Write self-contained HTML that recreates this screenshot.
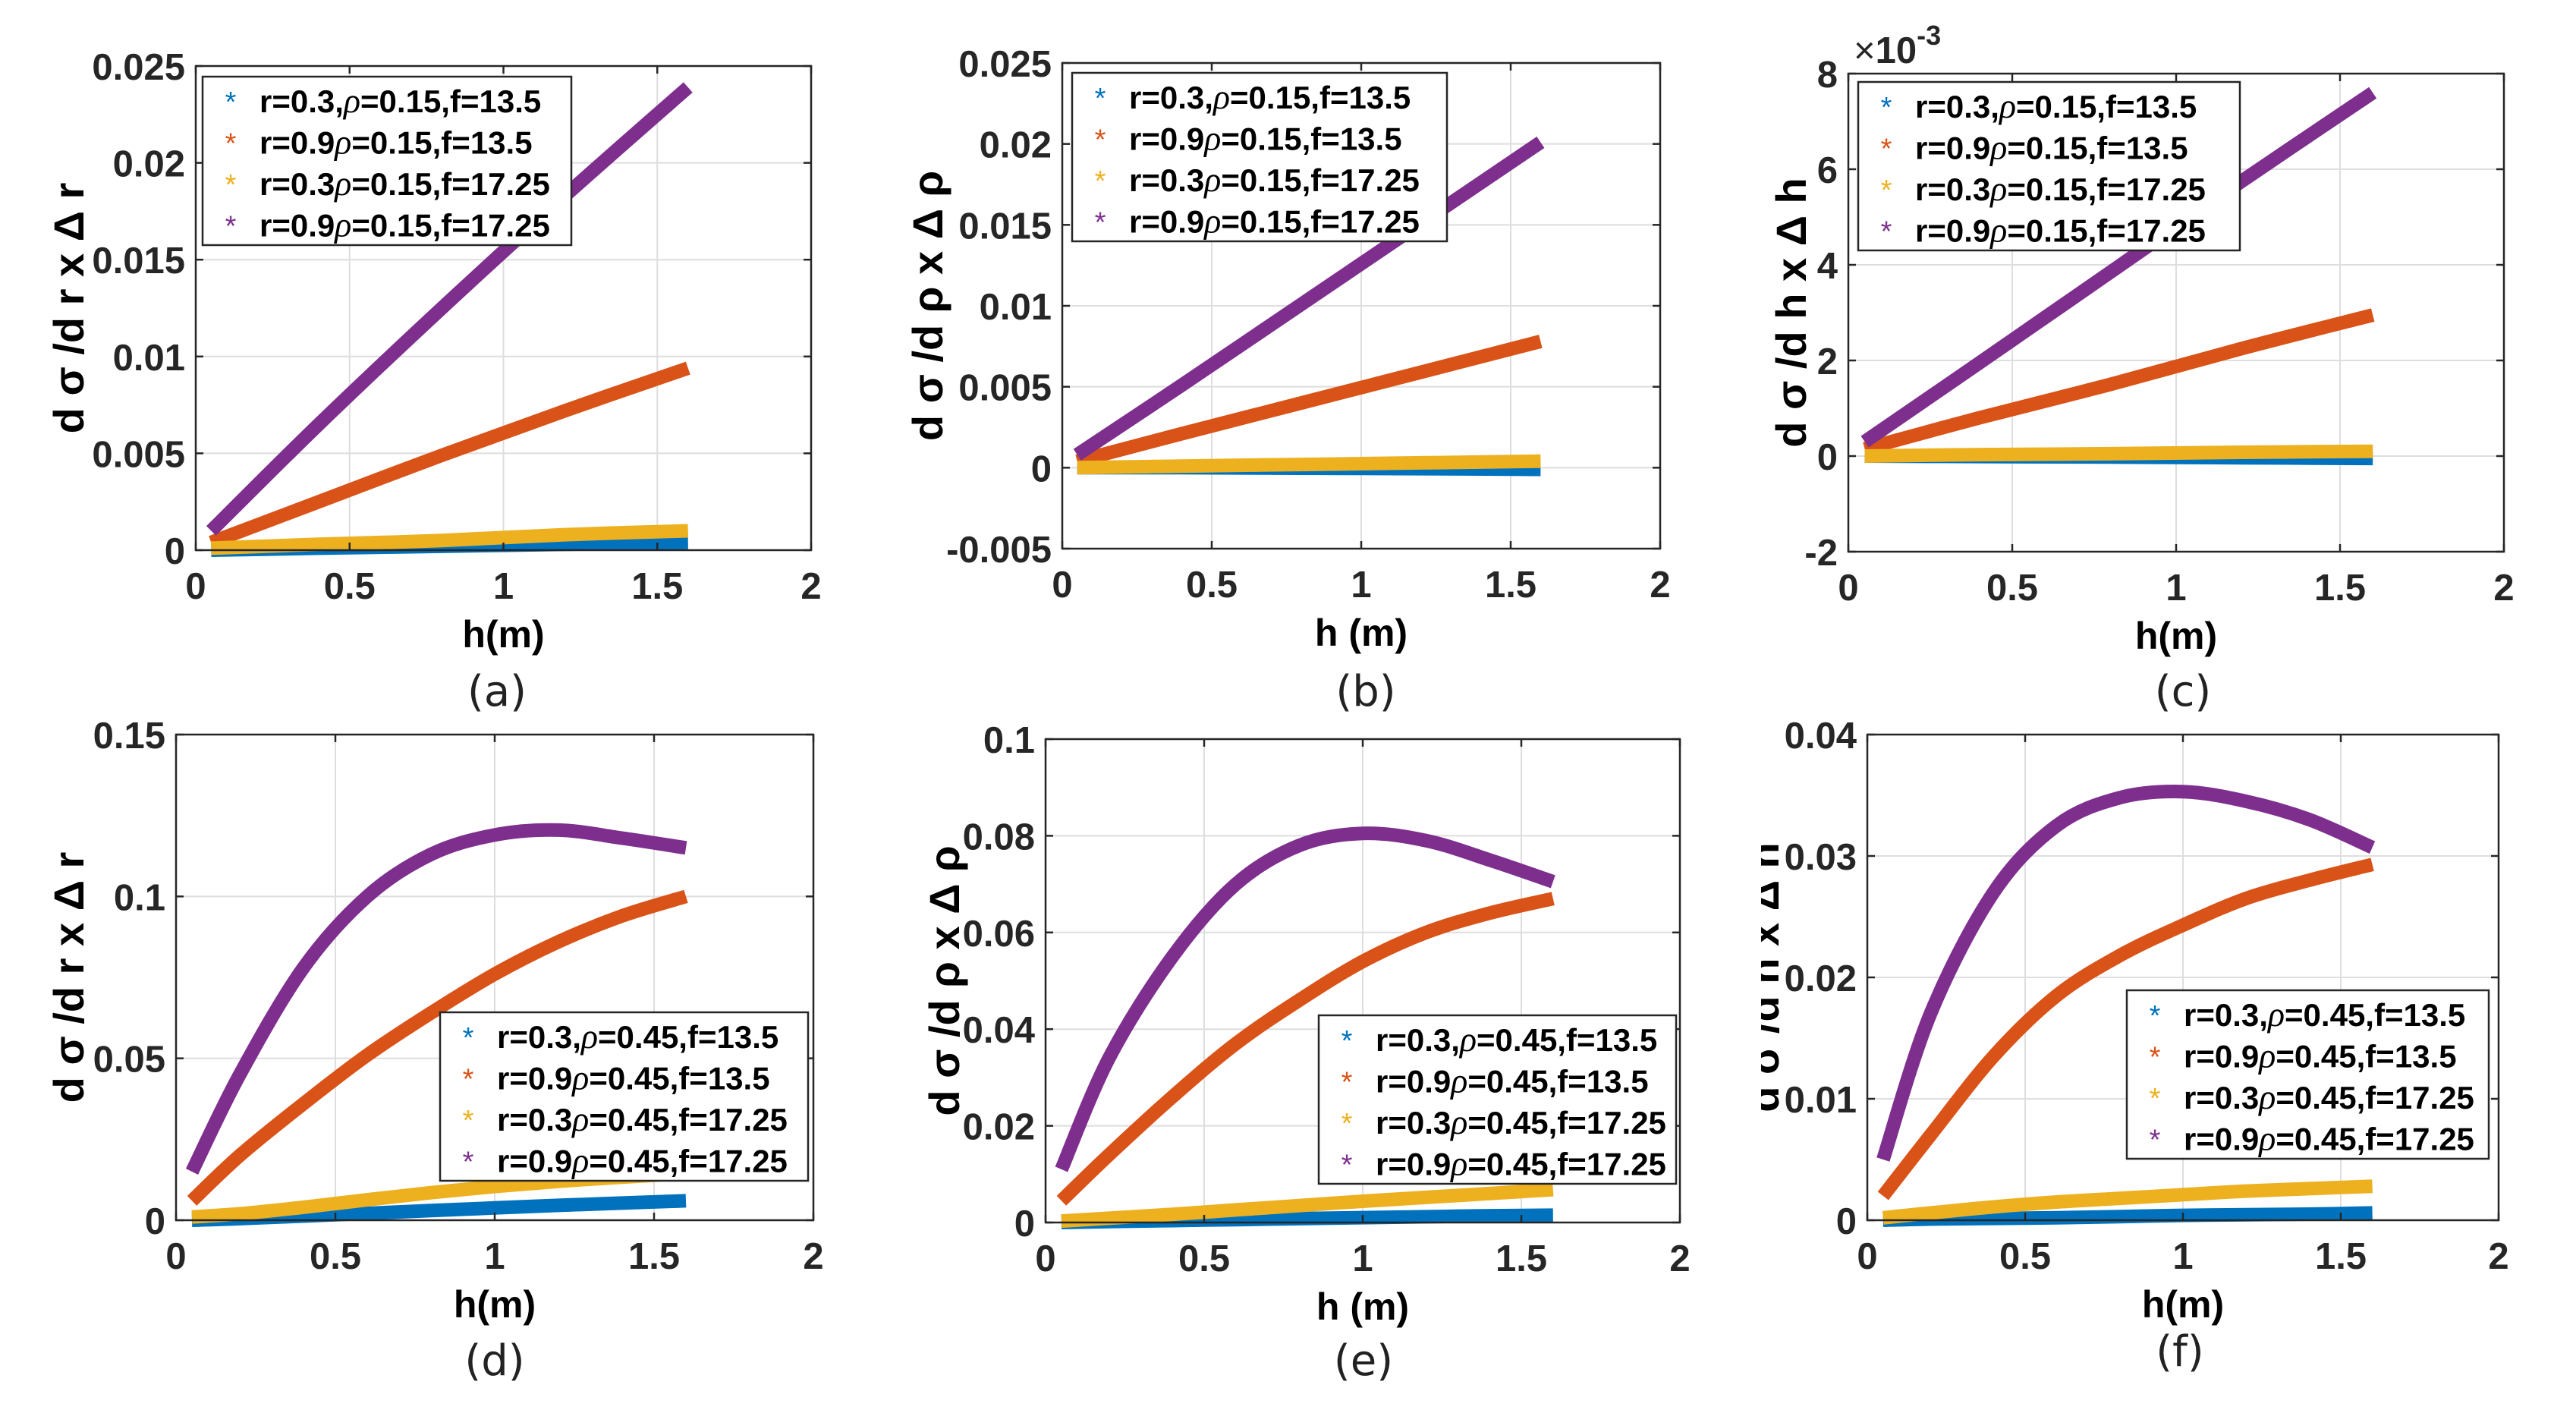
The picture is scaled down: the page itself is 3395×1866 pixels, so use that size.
<!DOCTYPE html>
<html><head><meta charset="utf-8">
<style>
html,body{margin:0;padding:0;background:#fff;}
svg{display:block;}
text{font-family:"Liberation Sans",Arial,sans-serif;}
.tk{font-size:49px;font-weight:bold;fill:#262626;}
.lab{font-size:50px;font-weight:bold;fill:#000;}
.ylab{font-size:56px;font-weight:bold;fill:#000;}
.cap{font-size:56px;fill:#222;font-family:"DejaVu Sans","Liberation Sans",sans-serif;}
.lg{font-size:42px;font-weight:bold;fill:#000;}
.rho{font-family:"Liberation Serif",serif;font-style:italic;font-weight:normal;font-size:46px;}
</style></head>
<body>
<svg id="fig" width="3395" height="1866" viewBox="0 0 3395 1866" xmlns="http://www.w3.org/2000/svg"></svg>
<script>
// shared x samples
const hLin = [0.05, 0.4, 0.8, 1.2, 1.6];
const hCurve = [0.05, 0.2, 0.4, 0.6, 0.8, 1.0, 1.2, 1.4, 1.6];
const seriesColors = ["#0072BD", "#D95319", "#EDB120", "#7E2F8E"];
// panel (a)
const aBlue = [0, 0.0001, 0.0002, 0.0003, 0.0004];
const aOrange = [0.0004, 0.0025, 0.0049, 0.0072, 0.0094];
const aYellow = [0.0001, 0.0003, 0.0005, 0.0008, 0.001];
const aPurple = [0.001, 0.0065, 0.0125, 0.0183, 0.0239];
const aTicks = [0, 0.005, 0.01, 0.015, 0.02, 0.025];
const aTickLabels = ["0", "0.005", "0.01", "0.015", "0.02", "0.025"];
// panel (b)
const bBlue = [0, 0, -0.00003, -0.00006, -0.0001];
const bOrange = [0.0004, 0.0021, 0.004, 0.0059, 0.0078];
const bYellow = [0, 0.0001, 0.0002, 0.0003, 0.0004];
const bPurple = [0.0008, 0.0051, 0.0101, 0.0151, 0.0201];
const bTicks = [-0.005, 0, 0.005, 0.01, 0.015, 0.02, 0.025];
const bTickLabels = ["-0.005", "0", "0.005", "0.01", "0.015", "0.02", "0.025"];
// panel (c) (x 1e-3)
const cBlue = [0, -0.01, -0.02, -0.035, -0.05];
const cOrange = [0.15, 0.8, 1.5, 2.25, 2.95];
const cYellow = [0, 0.03, 0.05, 0.08, 0.1];
const cPurple = [0.3, 1.95, 3.85, 5.75, 7.6];
const cTicks = [-2, 0, 2, 4, 6, 8];
const cTickLabels = ["-2", "0", "2", "4", "6", "8"];
// panel (d)
const dBlue = [0, 0.0005, 0.0013, 0.0021, 0.003, 0.0038, 0.0046, 0.0053, 0.006];
const dOrange = [0.006, 0.02, 0.036, 0.051, 0.064, 0.076, 0.086, 0.094, 0.1];
const dYellow = [0.001, 0.002, 0.004, 0.0063, 0.0085, 0.0104, 0.012, 0.0133, 0.0145];
const dPurple = [0.015, 0.045, 0.078, 0.1, 0.113, 0.119, 0.1205, 0.118, 0.115];
const dTicks = [0, 0.05, 0.1, 0.15];
const dTickLabels = ["0", "0.05", "0.1", "0.15"];
// panel (e)
const eBlue = [0, 0.0002, 0.0004, 0.0006, 0.0008, 0.001, 0.0012, 0.0014, 0.0015];
const eOrange = [0.0045, 0.014, 0.026, 0.037, 0.046, 0.054, 0.06, 0.064, 0.067];
const eYellow = [0.0003, 0.0009, 0.0017, 0.0026, 0.0035, 0.0044, 0.0052, 0.006, 0.0068];
const ePurple = [0.011, 0.034, 0.055, 0.07, 0.078, 0.0805, 0.079, 0.075, 0.0705];
const eTicks = [0, 0.02, 0.04, 0.06, 0.08, 0.1];
const eTickLabels = ["0", "0.02", "0.04", "0.06", "0.08", "0.1"];
// panel (f)
const fBlue = [0, 0.0001, 0.00015, 0.0002, 0.0003, 0.0004, 0.00045, 0.0005, 0.0006];
const fOrange = [0.002, 0.007, 0.0135, 0.0185, 0.0218, 0.0243, 0.0265, 0.028, 0.0293];
const fYellow = [0.0002, 0.0006, 0.0011, 0.0015, 0.0018, 0.0021, 0.0024, 0.0026, 0.0028];
const fPurple = [0.005, 0.017, 0.027, 0.0325, 0.0348, 0.0353, 0.0345, 0.033, 0.0307];
const fTicks = [0, 0.01, 0.02, 0.03, 0.04];
const fTickLabels = ["0", "0.01", "0.02", "0.03", "0.04"];
const xTicks = [0, 0.5, 1, 1.5, 2];
const xTickLabels = ["0", "0.5", "1", "1.5", "2"];

const NS = "http://www.w3.org/2000/svg";
const fig = document.getElementById("fig");
function mk(tag, attrs, parent) {
  const e = document.createElementNS(NS, tag);
  for (const k in attrs) e.setAttribute(k, attrs[k]);
  (parent || fig).appendChild(e);
  return e;
}
function smoothPath(P) {
  let d = "M" + P[0][0].toFixed(1) + "," + P[0][1].toFixed(1);
  for (let i = 0; i < P.length - 1; i++) {
    const p0 = P[Math.max(0, i - 1)], p1 = P[i], p2 = P[i + 1], p3 = P[Math.min(P.length - 1, i + 2)];
    const c1x = p1[0] + (p2[0] - p0[0]) / 6, c1y = p1[1] + (p2[1] - p0[1]) / 6;
    const c2x = p2[0] - (p3[0] - p1[0]) / 6, c2y = p2[1] - (p3[1] - p1[1]) / 6;
    d += " C" + c1x.toFixed(1) + "," + c1y.toFixed(1) + " " + c2x.toFixed(1) + "," + c2y.toFixed(1) + " " + p2[0].toFixed(1) + "," + p2[1].toFixed(1);
  }
  return d;
}

function panel(p) {
  const g = mk("g", {});
  
  
  const sx = v => p.L + (v - 0) / 2 * (p.R - p.L);
  const sy = v => p.B - (v - p.ymin) / (p.ymax - p.ymin) * (p.B - p.T);
  xTicks.forEach((t, i) => {
    if (i > 0 && i < xTicks.length - 1) {
      const gl = mk("line", {x1: sx(t), x2: sx(t), y1: p.T, y2: p.B, stroke: "#dedede", "stroke-width": 2}, g);
      
      
    }
  });
  p.yt.forEach((t, i) => {
    if (i > 0 && i < p.yt.length - 1) {
      const gl = mk("line", {x1: p.L, x2: p.R, y1: sy(t), y2: sy(t), stroke: "#dedede", "stroke-width": 2}, g);
      
      
    }
  });
  p.series.forEach((s, k) => {
    const P = s.map((v, i) => [sx(p.h[i]), sy(v)]);
    const pl = mk("path", {d: smoothPath(P), fill: "none", stroke: seriesColors[k], "stroke-width": 18, "stroke-linejoin": "round"}, g);
    
    
  });
  const bx = mk("rect", {x: p.L, y: p.T, width: p.R - p.L, height: p.B - p.T, fill: "none", stroke: "#262626", "stroke-width": 2.5}, g);
  
  
  xTicks.forEach((t, i) => {
    mk("line", {x1: sx(t), x2: sx(t), y1: p.B, y2: p.B - 10, stroke: "#262626", "stroke-width": 2.5}, g);
    mk("line", {x1: sx(t), x2: sx(t), y1: p.T, y2: p.T + 10, stroke: "#262626", "stroke-width": 2.5}, g);
    const tx = mk("text", {x: sx(t), y: p.B + 64, "text-anchor": "middle", class: "tk"}, g);
    tx.textContent = xTickLabels[i];
    
    
  });
  p.yt.forEach((t, i) => {
    mk("line", {x1: p.L, x2: p.L + 10, y1: sy(t), y2: sy(t), stroke: "#262626", "stroke-width": 2.5}, g);
    mk("line", {x1: p.R, x2: p.R - 10, y1: sy(t), y2: sy(t), stroke: "#262626", "stroke-width": 2.5}, g);
    const ty = mk("text", {x: p.L - 14, y: sy(t) + 18, "text-anchor": "end", class: "tk"}, g);
    ty.textContent = p.ytl[i];
    
    
  });
  const xl = mk("text", {x: (p.L + p.R) / 2, y: p.B + 128, "text-anchor": "middle", class: "lab"}, g);
  xl.textContent = p.xlab;
  
  
  const yc = (p.T + p.B) / 2;
  const yl = mk("text", {x: p.ylx, y: yc, "text-anchor": "middle", class: "ylab", transform: "rotate(-90 " + p.ylx + " " + yc + ")"}, g);
  yl.textContent = p.ylab;
  
  
  if (p.clip) {
    mk("rect", {x: p.clip - 100, y: p.T, width: 100, height: p.B - p.T, fill: "#fff"}, g);
  }
  const cp = mk("text", {x: p.capx, y: p.capy, "text-anchor": "middle", class: "cap"}, g);
  cp.textContent = p.cap;
  
  
  const lg = mk("g", {}, g);
  
  
  mk("rect", {x: p.lx, y: p.ly, width: p.lw, height: 222, fill: "#fff", stroke: "#262626", "stroke-width": 2.5}, lg);
  const rv = p.rho;
  const labels = [["r=0.3,", "=" + rv + ",f=13.5"], ["r=0.9", "=" + rv + ",f=13.5"], ["r=0.3", "=" + rv + ",f=17.25"], ["r=0.9", "=" + rv + ",f=17.25"]];
  labels.forEach((lb, k) => {
    const cy = p.ly + 32 + k * 54.5;
    const m = mk("text", {x: p.lx + 37, y: cy + 14, "text-anchor": "middle", style: "font-size:38px;fill:" + seriesColors[k]}, lg);
    m.textContent = "*";
    
    
    const t = mk("text", {x: p.lx + 75, y: cy + 15, class: "lg"}, lg);
    
    
    const a = mk("tspan", {}, t); a.textContent = lb[0];
    const r = mk("tspan", {class: "rho"}, t); r.textContent = "ρ";
    const b = mk("tspan", {}, t); b.textContent = lb[1];
  });
}

panel({id: "a", L: 258, R: 1069, T: 87, B: 725, ymin: 0, ymax: 0.025, yt: aTicks, ytl: aTickLabels, h: hLin,
  series: [aBlue, aOrange, aYellow, aPurple], xlab: "h(m)", ylab: "d σ /d r x Δ r", ylx: 110,
  cap: "(a)", capx: 655, capy: 930, lx: 267, ly: 101, lw: 486, rho: "0.15"});
panel({id: "b", L: 1400, R: 2188, T: 83, B: 723, ymin: -0.005, ymax: 0.025, yt: bTicks, ytl: bTickLabels, h: hLin,
  series: [bBlue, bOrange, bYellow, bPurple], xlab: "h (m)", ylab: "d σ /d ρ x Δ ρ", ylx: 1242,
  cap: "(b)", capx: 1800, capy: 930, lx: 1413, ly: 96, lw: 494, rho: "0.15"});
panel({id: "c", L: 2436, R: 3300, T: 97, B: 727, ymin: -2, ymax: 8, yt: cTicks, ytl: cTickLabels, h: hLin,
  series: [cBlue, cOrange, cYellow, cPurple], xlab: "h(m)", ylab: "d σ /d h x Δ h", ylx: 2380,
  cap: "(c)", capx: 2877, capy: 930, lx: 2449, ly: 108, lw: 503, rho: "0.15"});
panel({id: "d", L: 232, R: 1072, T: 968, B: 1608, ymin: 0, ymax: 0.15, yt: dTicks, ytl: dTickLabels, h: hCurve,
  series: [dBlue, dOrange, dYellow, dPurple], xlab: "h(m)", ylab: "d σ /d r x Δ r", ylx: 110,
  cap: "(d)", capx: 652, capy: 1812, lx: 580, ly: 1334, lw: 485, rho: "0.45"});
panel({id: "e", L: 1378, R: 2214, T: 974, B: 1611, ymin: 0, ymax: 0.1, yt: eTicks, ytl: eTickLabels, h: hCurve,
  series: [eBlue, eOrange, eYellow, ePurple], xlab: "h (m)", ylab: "d σ /d ρ x Δ ρ", ylx: 1264,
  cap: "(e)", capx: 1797, capy: 1812, lx: 1738, ly: 1338, lw: 471, rho: "0.45"});
panel({id: "f", L: 2461, R: 3293, T: 968, B: 1608, ymin: 0, ymax: 0.04, yt: fTicks, ytl: fTickLabels, h: hCurve,
  series: [fBlue, fOrange, fYellow, fPurple], xlab: "h(m)", ylab: "d σ /d h x Δ h", ylx: 2344, clip: 2321,
  cap: "(f)", capx: 2873, capy: 1800, lx: 2803, ly: 1305, lw: 477, rho: "0.45"});

const ex = mk("text", {x: 2443, y: 83, class: "tk"});


const e1 = mk("tspan", {style: "font-weight:normal"}, ex); e1.textContent = "×";
const e2 = mk("tspan", {}, ex); e2.textContent = "10";
const e3 = mk("tspan", {dy: -24, style: "font-size:36px"}, ex); e3.textContent = "-3";
</script>
</body></html>
